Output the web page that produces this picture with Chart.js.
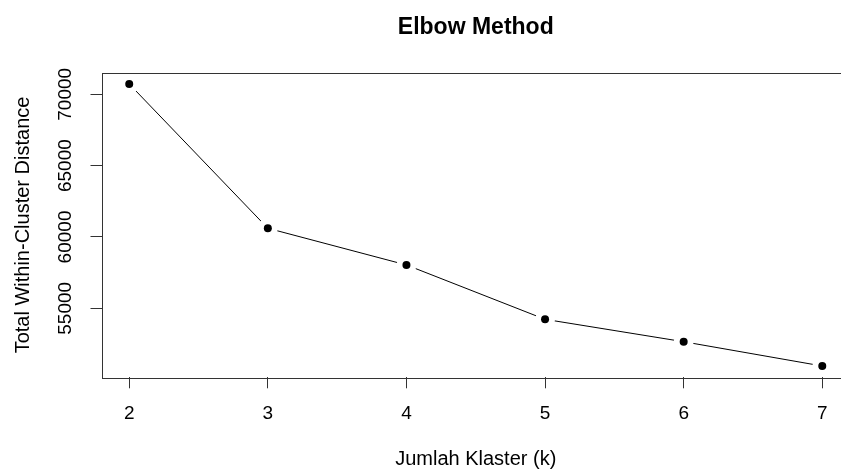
<!DOCTYPE html>
<html><head><meta charset="utf-8">
<script src="https://cdn.jsdelivr.net/npm/chart.js@4/dist/chart.umd.min.js"></script>
<style>html,body{margin:0;padding:0;overflow:hidden;background:#fff}canvas{display:block}</style>
</head><body><canvas id="c" width="860" height="469"></canvas>
<script>
const chartTitle = 'Elbow Method';
const xAxisTitle = 'Jumlah Klaster (k)';
const yAxisTitle = 'Total Within-Cluster Distance';
const kValues = [2, 3, 4, 5, 6, 7];
const wcss = [70722, 60610, 58037, 54229, 52659, 50956];
const xTicks = [2, 3, 4, 5, 6, 7];
const yTicks = [55000, 60000, 65000, 70000];

const FONT = "'Liberation Sans', Arial, Helvetica, sans-serif";
const FS = 19;
const FT = 20;
const pts = kValues.map((k, i) => ({x: k, y: wcss[i]}));
const xMinD = Math.min(...kValues), xMaxD = Math.max(...kValues);
const yMinD = Math.min(...wcss), yMaxD = Math.max(...wcss);
const xr = xMaxD - xMinD, yr = yMaxD - yMinD;

const rPlot = {
  id: 'rPlot',
  afterDraw(chart) {
    const ctx = chart.ctx, ca = chart.chartArea;
    ctx.save();
    ctx.strokeStyle = '#333';
    ctx.lineWidth = 1;
    ctx.strokeRect(Math.round(ca.left) + 0.5, Math.round(ca.top) + 0.5,
      Math.round(ca.right - ca.left), Math.round(ca.bottom - ca.top));
    // title
    ctx.fillStyle = '#000';
    ctx.font = 'bold 23px ' + FONT;
    ctx.textAlign = 'center';
    ctx.textBaseline = 'middle';
    ctx.fillText(chartTitle, (ca.left + ca.right) / 2, 28);
    // y tick labels, parallel to axis
    const ys = chart.scales.y;
    ctx.font = FS + 'px ' + FONT;
    yTicks.forEach(v => {
      const py = ys.getPixelForValue(v);
      ctx.save();
      ctx.translate(66, py);
      ctx.rotate(-Math.PI / 2);
      ctx.fillText(String(v), 0, 0);
      ctx.restore();
    });
    ctx.restore();
  }
};

new Chart(document.getElementById('c'), {
  type: 'line',
  data: {
    datasets: [
      {data: pts, borderColor: '#000', borderWidth: 1, pointRadius: 0, order: 3, tension: 0},
      {data: pts, showLine: false, pointRadius: 10, pointBackgroundColor: '#fff', pointBorderWidth: 0, pointBorderColor: '#fff', order: 2},
      {data: pts, showLine: false, pointRadius: 4, pointBackgroundColor: '#000', pointBorderWidth: 0, pointBorderColor: '#000', order: 1}
    ]
  },
  options: {
    responsive: false,
    animation: false,
    devicePixelRatio: 1,
    layout: {padding: {top: 72.7, right: 8.2, left: 0, bottom: 0}},
    plugins: {legend: {display: false}, tooltip: {enabled: false}, title: {display: false}},
    scales: {
      x: {
        type: 'linear',
        min: xMinD - 0.04 * xr,
        max: xMaxD + 0.04 * xr,
        afterBuildTicks: s => { s.ticks = xTicks.map(v => ({value: v})); },
        afterFit: s => { s.height = 469 - 377.3; },
        grid: {drawOnChartArea: false, drawTicks: true, tickLength: 11, color: '#333'},
        border: {display: false},
        ticks: {color: '#000', font: {family: FONT, size: FS}, padding: 14, maxRotation: 0, autoSkip: false},
        title: {display: true, text: xAxisTitle, color: '#000', font: {family: FONT, size: FT, lineHeight: 1.0}, padding: {top: 0, bottom: 0}}
      },
      y: {
        type: 'linear',
        min: yMinD - 0.04 * yr,
        max: yMaxD + 0.04 * yr,
        afterBuildTicks: s => { s.ticks = yTicks.map(v => ({value: v})); },
        afterFit: s => { s.width = 101.5; },
        grid: {drawOnChartArea: false, drawTicks: true, tickLength: 11, color: '#333'},
        border: {display: false},
        ticks: {color: 'rgba(0,0,0,0)', font: {family: FONT, size: FS}},
        title: {display: true, text: yAxisTitle, color: '#000', font: {family: FONT, size: FT, lineHeight: 1.0}, padding: {top: 13, bottom: 0}}
      }
    }
  },
  plugins: [rPlot]
});
</script>
</body></html>
